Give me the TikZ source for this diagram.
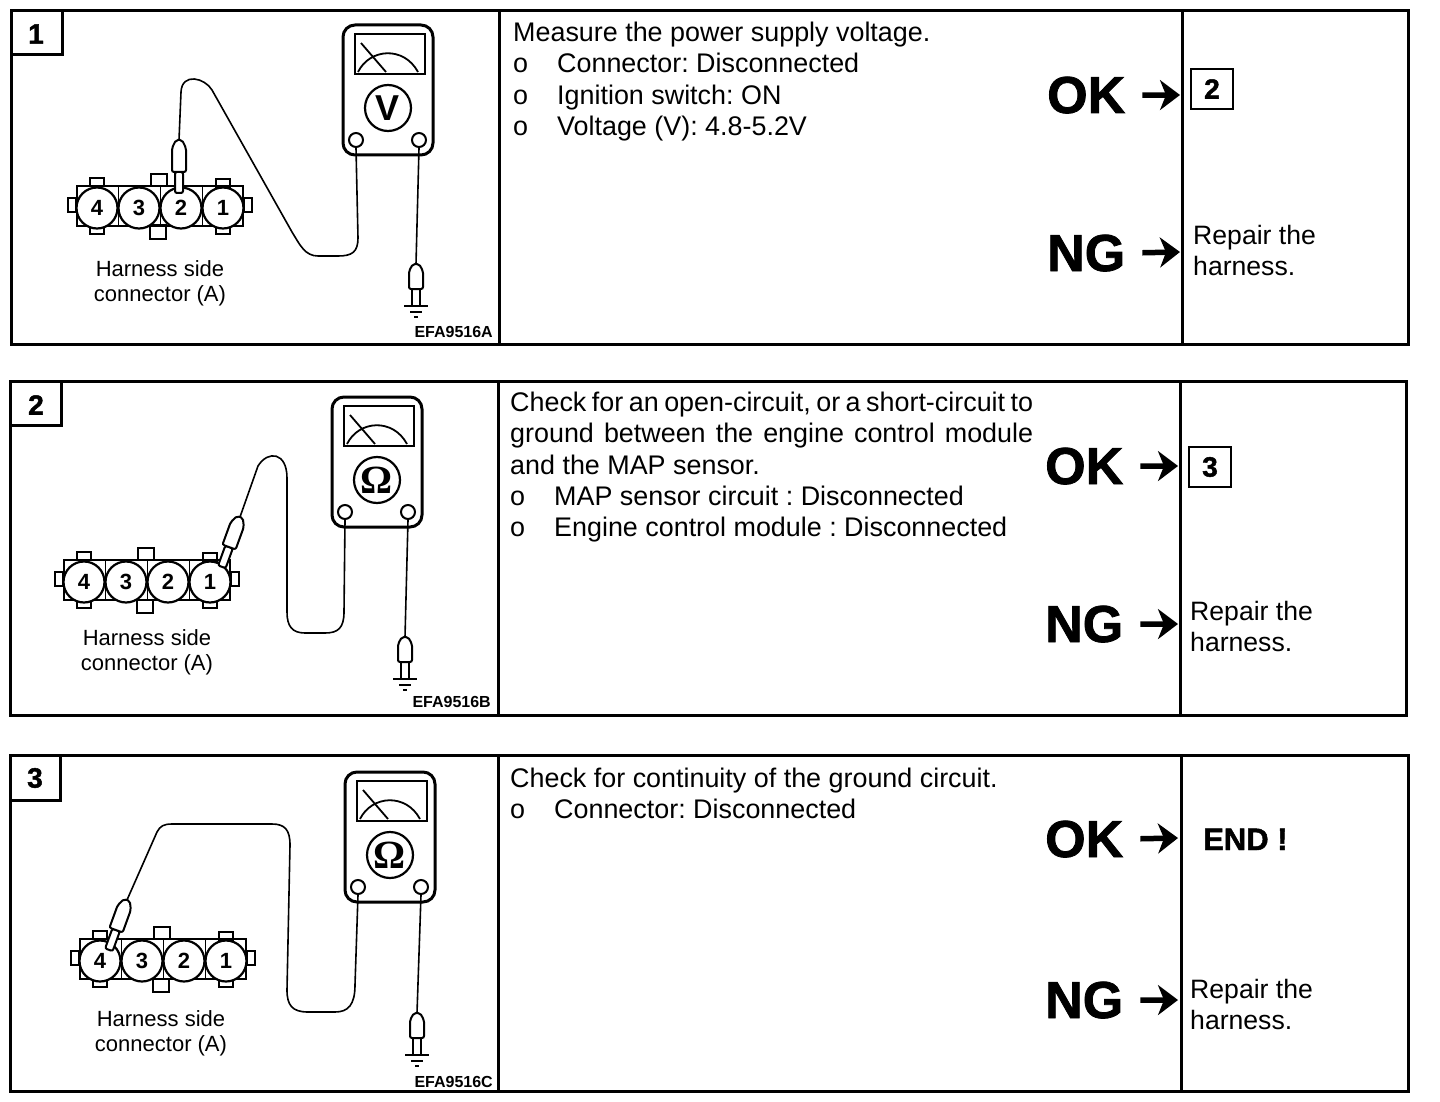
\documentclass[tikz,border=0pt]{standalone}
\usepackage{fontspec}
\setmainfont{Liberation Sans}
\newfontfamily\omegafont{Liberation Serif}
\newfontfamily\heavyfont{Liberation Sans}[BoldFeatures={FakeBold=1.5}]
\usetikzlibrary{arrows.meta}
\tikzset{
    panelline/.style={line width=3pt},
    wire/.style={line width=1.6pt},
    steptext/.style={anchor=north west,inner sep=0pt,text width=523pt,align=flush left,font=\fontsize{26.9}{31.3}\selectfont\frenchspacing},
    nexttext/.style={anchor=north west,inner sep=0pt,align=flush left,font=\fontsize{26.6}{31}\selectfont},
    verdict/.style={anchor=base west,inner sep=0pt,font=\fontsize{52}{52}\selectfont\heavyfont\bfseries},
    verdictarrow/.style={line width=5.5pt,-{Stealth[length=20pt,width=30pt,inset=6pt]},shorten <=17pt},
    stepnum/.style={inner sep=0pt,font=\fontsize{28}{28}\selectfont\heavyfont\bfseries},
    nextbox/.style={draw,line width=1.8pt,minimum width=42pt,minimum height=40pt,inner sep=0pt,font=\fontsize{28}{28}\selectfont\heavyfont\bfseries},
    sidelabel/.style={inner sep=0pt,align=flush center,font=\fontsize{22}{25}\selectfont},
    figcode/.style={anchor=base east,inner sep=0pt,font=\fontsize{16}{16}\selectfont\bfseries},
    pinnode/.style={circle,draw,line width=2.2pt,fill=white,minimum size=41pt,inner sep=0pt,font=\fontsize{22}{22}\selectfont\bfseries},
    holenode/.style={circle,draw,line width=2pt,fill=white,minimum size=14pt,inner sep=0pt},
    pics/meter/.style={code={
        \draw[line width=3pt,rounded corners=12pt] (-45,-83) rectangle (45,47);
        \draw[line width=2.2pt] (-33,-74) rectangle (37,-34);
        \draw[line width=1.8pt] (-30,-36) .. controls (-18,-60) and (16,-62) .. (30,-36);
        \draw[line width=1.8pt] (-27,-65) -- (-2,-36);
        \node[circle,draw,line width=2.2pt,minimum size=46pt,inner sep=0pt] (-dial) at (0,0) {#1};
        \node[holenode] (-left) at (-32,32) {};
        \node[holenode] (-right) at (31,32) {};
    }},
    pics/harness/.style={code={
        % Tabs
        \foreach \x/\y/\w/\h in {-63/-24/14/8,-1/-26/16/12,63/-23/14/8,-63/24/14/8,-2/26/16/13,63/24/14/8,-88/-1/8/14,88/-1/8/14} {
            \draw[line width=2pt] ({\x-\w/2},{\y-\h/2}) rectangle ({\x+\w/2},{\y+\h/2});
        }
        \draw[line width=2.4pt] (-83,-20) rectangle (83,20);
        \foreach \x in {-42,0,42} {
            \draw[line width=0.8pt] (\x,-20) -- (\x,20);
        }
        % Pins
        \foreach \x/\n in {-63/4,-21/3,21/2,63/1} {
            \node[pinnode] (-pin\n) at (\x,2) {\n};
        }
    }},
    pics/probe/.style={code={
        \coordinate (-tail) at (0,0);
        \draw[line width=2pt,fill=white,rounded corners=2pt] (-4,32) rectangle (4,53);
        \draw[line width=2pt,fill=white,rounded corners=2pt] (-3,0) -- (3,0) -- (7,8) -- (7,32) -- (-7,32) -- (-7,8) -- cycle;
    }},
    pics/groundprobe/.style={code={
        \coordinate (-tail) at (0,0);
        \draw[line width=2pt,fill=white] (-4,25) rectangle (4,42);
        \draw[line width=2pt,fill=white,rounded corners=2pt] (-3,0) -- (3,0) -- (7,7) -- (7,25) -- (-7,25) -- (-7,7) -- cycle;
        \draw[line width=2pt] (-12,42) -- (12,42);
        \draw[line width=1.5pt] (-6,48) -- (6,48);
        \draw[line width=1.5pt] (-2,53) -- (2,53);
    }},
}
\begin{document}
\begin{tikzpicture}[x=1pt,y=-1pt]
    \useasboundingbox (0,0) rectangle (1440,1102);
    % Step 1
    \draw[panelline] (11,11) rectangle (1408,344);
    \draw[panelline] (499,11) -- (499,344);
    \draw[panelline] (1182,11) -- (1182,344);
    \draw[panelline] (11,55) -- (62,55) -- (62,11);
    \node[stepnum] (numone) at (36,34) {1};
    \pic (harnessone) at (160,206) {harness};
    \pic (meterone) at (388,108) {meter={\fontsize{36}{36}\selectfont\bfseries V}};
    \pic (probeone) at (179,140) {probe};
    \pic (groundone) at (416,264) {groundprobe};
    \draw[wire] (meterone-left.south) -- (358,238) .. controls (358,252) and (352,256) .. (338,256) -- (318,256) .. controls (305,256) and (300,245) .. (292,232) -- (212,90) .. controls (205,78) and (182,72) .. (181,92) -- (probeone-tail);
    \draw[wire] (meterone-right.south) -- (groundone-tail);
    \node[sidelabel] (labelone) at (160,283) {Harness side\\connector (A)};
    \node[figcode] (codeone) at (493,337) {EFA9516A};
    \node[steptext] (textone) at (513,22) {Measure the power supply voltage.\\
        \makebox[44pt][l]{o}Connector: Disconnected\\
        \makebox[44pt][l]{o}Ignition switch: ON\\
        \makebox[44pt][l]{o}Voltage (V): 4.8-5.2V};
    \node[verdict] (okone) at (1047,113) {OK};
    \coordinate (okendone) at (1180,95);
    \draw[verdictarrow] (okone.east) -- (okendone);
    \node[nextbox] (nextone) at (1212,89) {2};
    \node[verdict] (ngone) at (1047,271) {NG};
    \coordinate (ngendone) at (1180,252);
    \draw[verdictarrow] (ngone.east) -- (ngendone);
    \node[nexttext] (repairone) at (1193,225) {Repair the\\harness.};
    % Step 2
    \draw[panelline] (10,381) rectangle (1406,715);
    \draw[panelline] (498,381) -- (498,715);
    \draw[panelline] (1180,381) -- (1180,715);
    \draw[panelline] (10,425) -- (61,425) -- (61,381);
    \node[stepnum] (numtwo) at (36,405) {2};
    \pic (harnesstwo) at (147,580) {harness};
    \pic (metertwo) at (377,480) {meter={\omegafont\fontsize{40}{40}\selectfont\bfseries Ω}};
    \pic[rotate=-20] (probetwo) at (240,517) {probe};
    \pic (groundtwo) at (405,637) {groundprobe};
    \draw[wire] (metertwo-left.south) -- (344,612) .. controls (344,628) and (338,633) .. (325,633) -- (305,633) .. controls (292,633) and (287,626) .. (287,612) -- (287,478) .. controls (287,452) and (268,450) .. (258,466) -- (probetwo-tail);
    \draw[wire] (metertwo-right.south) -- (groundtwo-tail);
    \node[sidelabel] (labeltwo) at (147,652) {Harness side\\connector (A)};
    \node[figcode] (codetwo) at (491,707) {EFA9516B};
    \node[steptext] (texttwo) at (510,392) {\makebox[523pt][s]{Check for an open-circuit, or a short-circuit to}\\
        \makebox[523pt][s]{ground between the engine control module}\\
        and the MAP sensor.\\
        \makebox[44pt][l]{o}MAP sensor circuit : Disconnected\\
        \makebox[44pt][l]{o}Engine control module : Disconnected};
    \node[verdict] (oktwo) at (1045,484) {OK};
    \coordinate (okendtwo) at (1178,466);
    \draw[verdictarrow] (oktwo.east) -- (okendtwo);
    \node[nextbox] (nexttwo) at (1210,467) {3};
    \node[verdict] (ngtwo) at (1045,642) {NG};
    \coordinate (ngendtwo) at (1178,624);
    \draw[verdictarrow] (ngtwo.east) -- (ngendtwo);
    \node[nexttext] (repairtwo) at (1190,601) {Repair the\\harness.};
    % Step 3
    \draw[panelline] (10,755) rectangle (1408,1091);
    \draw[panelline] (498,755) -- (498,1091);
    \draw[panelline] (1181,755) -- (1181,1091);
    \draw[panelline] (10,800) -- (60,800) -- (60,755);
    \node[stepnum] (numthree) at (35,778) {3};
    \pic (harnessthree) at (163,959) {harness};
    \pic (meterthree) at (390,855) {meter={\omegafont\fontsize{40}{40}\selectfont\bfseries Ω}};
    \pic[rotate=-20] (probethree) at (127,900) {probe};
    \pic (groundthree) at (417,1013) {groundprobe};
    \draw[wire] (meterthree-left.south) -- (355,985) .. controls (355,1005) and (348,1012) .. (335,1012) -- (308,1012) .. controls (292,1012) and (287,1005) .. (287,990) -- (290,845) .. controls (290,830) and (285,824) .. (272,824) -- (172,824) .. controls (164,824) and (160,826) .. (157,832) -- (probethree-tail);
    \draw[wire] (meterthree-right.south) -- (groundthree-tail);
    \node[sidelabel] (labelthree) at (161,1033) {Harness side\\connector (A)};
    \node[figcode] (codethree) at (493,1087) {EFA9516C};
    \node[steptext] (textthree) at (510,768) {Check for continuity of the ground circuit.\\
        \makebox[44pt][l]{o}Connector: Disconnected};
    \node[verdict] (okthree) at (1045,857) {OK};
    \coordinate (okendthree) at (1178,838);
    \draw[verdictarrow] (okthree.east) -- (okendthree);
    \node[anchor=base west,inner sep=0pt,font=\fontsize{31}{31}\selectfont\heavyfont\bfseries] (endthree) at (1203,850) {END !};
    \node[verdict] (ngthree) at (1045,1018) {NG};
    \coordinate (ngendthree) at (1178,1000);
    \draw[verdictarrow] (ngthree.east) -- (ngendthree);
    \node[nexttext] (repairthree) at (1190,979) {Repair the\\harness.};
\end{tikzpicture}
\end{document}
